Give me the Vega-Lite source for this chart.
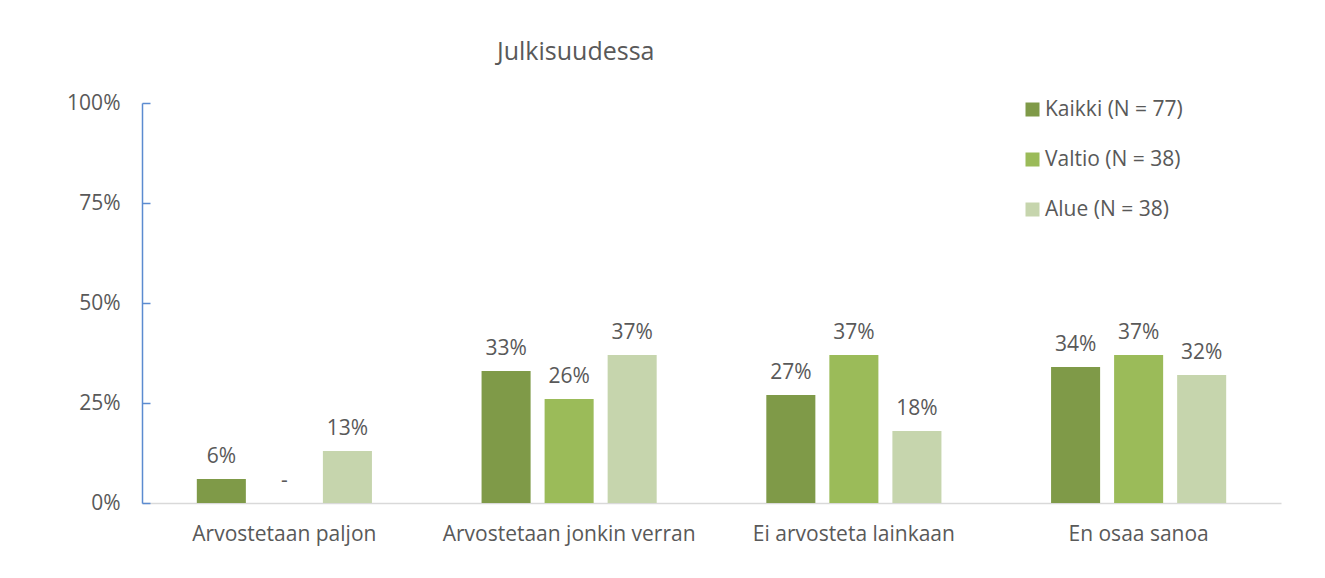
{
  "$schema": "https://vega.github.io/schema/vega-lite/v6.json",
  "width": 1139,
  "height": 400,
  "autosize": {"type": "none"},
  "padding": {"left": 142, "top": 103, "right": 44, "bottom": 75},
  "background": "white",
  "title": {
    "text": "Julkisuudessa",
    "anchor": "start",
    "frame": "group",
    "dx": 355,
    "offset": 27,
    "font": "Open Sans",
    "fontSize": 25,
    "fontWeight": "normal",
    "color": "#595959"
  },
  "config": {
    "view": {"stroke": null},
    "font": "Open Sans"
  },
  "data": {
    "values": [
      {"cat": "Arvostetaan paljon", "group": "Kaikki (N = 77)", "value": 6, "label": "6%"},
      {"cat": "Arvostetaan paljon", "group": "Valtio (N = 38)", "value": 0, "label": "-"},
      {"cat": "Arvostetaan paljon", "group": "Alue (N = 38)", "value": 13, "label": "13%"},
      {"cat": "Arvostetaan jonkin verran", "group": "Kaikki (N = 77)", "value": 33, "label": "33%"},
      {"cat": "Arvostetaan jonkin verran", "group": "Valtio (N = 38)", "value": 26, "label": "26%"},
      {"cat": "Arvostetaan jonkin verran", "group": "Alue (N = 38)", "value": 37, "label": "37%"},
      {"cat": "Ei arvosteta lainkaan", "group": "Kaikki (N = 77)", "value": 27, "label": "27%"},
      {"cat": "Ei arvosteta lainkaan", "group": "Valtio (N = 38)", "value": 37, "label": "37%"},
      {"cat": "Ei arvosteta lainkaan", "group": "Alue (N = 38)", "value": 18, "label": "18%"},
      {"cat": "En osaa sanoa", "group": "Kaikki (N = 77)", "value": 34, "label": "34%"},
      {"cat": "En osaa sanoa", "group": "Valtio (N = 38)", "value": 37, "label": "37%"},
      {"cat": "En osaa sanoa", "group": "Alue (N = 38)", "value": 32, "label": "32%"}
    ]
  },
  "encoding": {
    "x": {
      "field": "cat",
      "type": "nominal",
      "sort": null,
      "scale": {"paddingInner": 0.385, "paddingOuter": 0.1925},
      "axis": {
        "title": null,
        "labelAngle": 0,
        "labelFontSize": 21,
        "labelColor": "#595959",
        "labelPadding": 20,
        "labelLimit": 500,
        "ticks": false,
        "domainColor": "#d9d9d9",
        "domainWidth": 1.5,
        "grid": false
      }
    },
    "xOffset": {
      "field": "group",
      "type": "nominal",
      "sort": null,
      "scale": {"paddingInner": 0.222, "paddingOuter": 0}
    },
    "y": {
      "field": "value",
      "type": "quantitative",
      "scale": {"domain": [0, 100]},
      "axis": {
        "title": null,
        "values": [0, 25, 50, 75, 100],
        "labelExpr": "datum.value + '%'",
        "labelFontSize": 21,
        "labelColor": "#595959",
        "labelPadding": 30,
        "tickSize": -8,
        "tickColor": "#5b8bd0",
        "tickWidth": 1.5,
        "domainColor": "#5b8bd0",
        "domainWidth": 1.5,
        "grid": false
      }
    }
  },
  "layer": [
    {
      "mark": {"type": "bar"},
      "encoding": {
        "color": {
          "field": "group",
          "type": "nominal",
          "sort": null,
          "scale": {
            "domain": ["Kaikki (N = 77)", "Valtio (N = 38)", "Alue (N = 38)"],
            "range": ["#7f9a48", "#9bbb59", "#c6d5ad"]
          },
          "legend": {
            "title": null,
            "orient": "none",
            "legendX": 880,
            "legendY": -4,
            "symbolType": "square",
            "symbolSize": 196,
            "symbolStrokeWidth": 0,
            "labelFontSize": 21,
            "labelColor": "#595959",
            "labelOffset": 2,
            "rowPadding": 28,
            "padding": 0
          }
        }
      }
    },
    {
      "mark": {"type": "text", "baseline": "bottom", "dy": -12, "fontSize": 21, "color": "#595959"},
      "encoding": {
        "text": {"field": "label"}
      }
    }
  ]
}
